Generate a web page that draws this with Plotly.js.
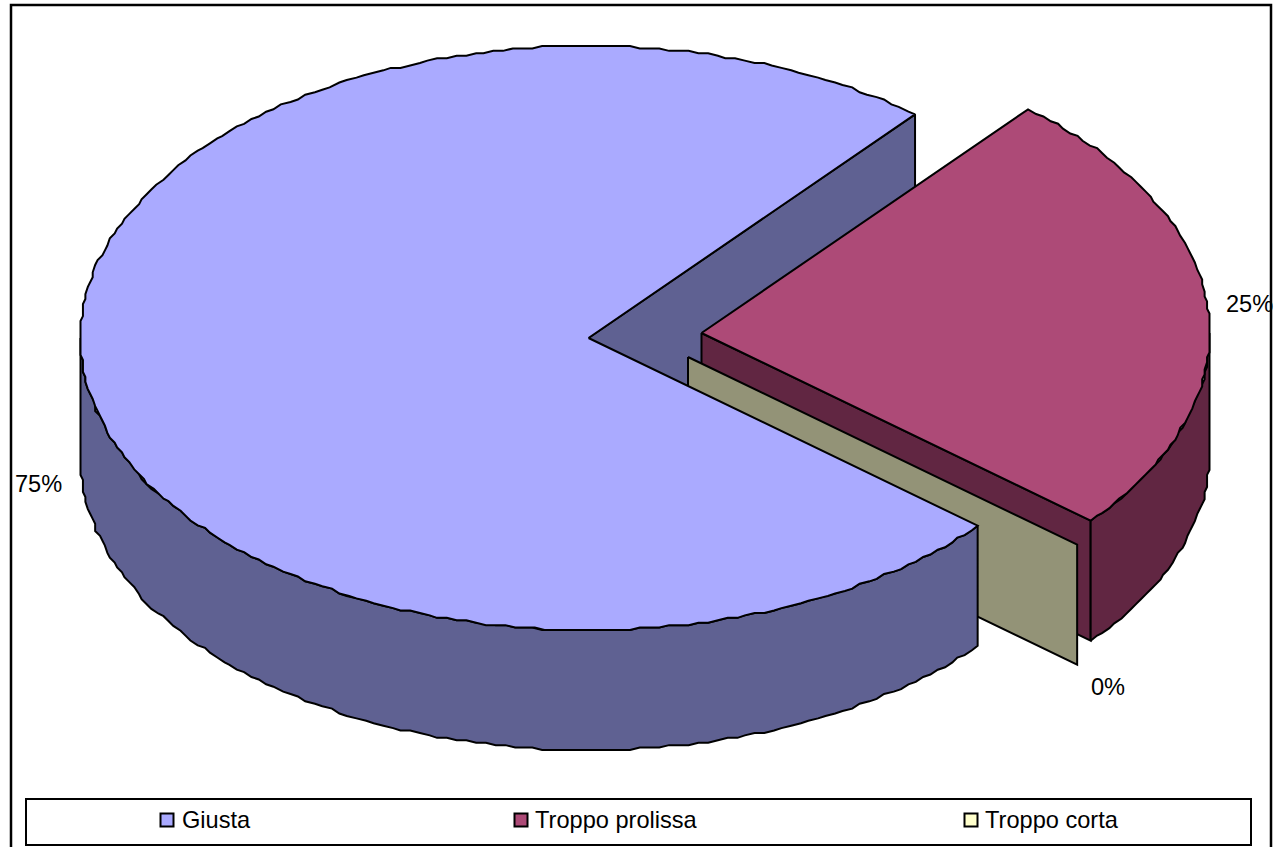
<!DOCTYPE html>
<html>
<head>
<meta charset="utf-8">
<script src="https://cdn.plot.ly/plotly-3.0.1.min.js"></script>
<style>html,body{margin:0;padding:0;background:#fff}</style>
</head>
<body>
<div id="chart" style="width:1284px;height:847px"></div>
<script>
const categories = ["Giusta", "Troppo prolissa", "Troppo corta"];
const values = [75, 25, 0];
const topColors = ["#AAAAFF", "#AD4A77", "#FFFFCC"];
const sideColors = ["#5F6192", "#612642", "#939377"];
const centerXs = [588.5, 701.5, 688];
const centerYs = [338, 333, 357];
const legendMarkerXs = [167, 521, 971];
const legendTextXs = [180, 533, 983];
const labelXs = [38, 1249, 1108];
const labelYs = [484, 304, 687];

const RX = 508, RY = 292, DEPTH = 120, START = -40, GRID_X = RX / 208, GRID_Y = RY / 120;
const rad = d => d * Math.PI / 180;
const snap = (v, g) => Math.round(v / g) * g;

function arc(cx, cy, a0, a1, dy) {
  const n = Math.max(1, Math.round(Math.abs(a1 - a0) / 1.1));
  const pts = [];
  for (let i = 0; i <= n; i++) {
    const a = a0 + (a1 - a0) * i / n;
    let ox = RX * Math.cos(rad(a)), oy = -RY * Math.sin(rad(a));
    if (i > 0 && i < n) { ox = snap(ox, GRID_X); oy = snap(oy, GRID_Y); }
    pts.push([cx + ox, cy + oy + dy]);
  }
  return pts;
}
function poly(pts, color, name) {
  const closed = pts.concat([pts[0]]);
  return {
    type: "scatter", mode: "lines", name: name, fill: "toself", fillcolor: color,
    x: closed.map(p => p[0]), y: closed.map(p => p[1]),
    line: {color: "#000", width: 2, simplify: false}, hoverinfo: "name", showlegend: false
  };
}

// slice angles from values (clockwise from START)
const sweeps = values.map(v => v / 100 * 360);
const starts = [];
sweeps.reduce((s, w, i) => { starts[i] = s; return s - w; }, START);
const ends = starts.map((s, i) => s - sweeps[i]);

function radial(i, a) {
  const cx = centerXs[i], cy = centerYs[i];
  return [cx + RX * Math.cos(rad(a)), cy - RY * Math.sin(rad(a))];
}
function wall(i, a) {
  const cx = centerXs[i], cy = centerYs[i], e = radial(i, a);
  return poly([[cx, cy], e, [e[0], e[1] + DEPTH], [cx, cy + DEPTH]], sideColors[i], categories[i]);
}
function rim(i, a0, a1) {
  const t = arc(centerXs[i], centerYs[i], a0, a1, 0);
  const b = arc(centerXs[i], centerYs[i], a0, a1, DEPTH).reverse();
  return poly(t.concat(b), sideColors[i], categories[i]);
}
function topFace(i) {
  const pts = [[centerXs[i], centerYs[i]]].concat(arc(centerXs[i], centerYs[i], starts[i], ends[i], 0));
  return poly(pts, topColors[i], categories[i]);
}

const traces = [
  wall(0, ends[0]),          // cut face of the big slice
  wall(1, ends[1]),          // cut face of the exploded slice
  rim(1, ends[1], -360),     // visible outer rim of the exploded slice
  topFace(1),
  wall(2, starts[2]),        // zero-width slice is only a wall
  rim(0, starts[0], -180),   // front rim of the big slice
  topFace(0),
  {
    type: "scatter", mode: "markers", x: legendMarkerXs, y: categories.map(() => 820),
    marker: {symbol: "square", size: 13, color: topColors, line: {color: "#000", width: 2}},
    hoverinfo: "skip", showlegend: false
  }
];

const labelFont = {family: "Liberation Sans, Arial, sans-serif", size: 23.6, color: "#000"};
const annotations = categories.map((c, i) => ({
  x: legendTextXs[i], y: 820, text: c, showarrow: false, xanchor: "left", yanchor: "middle", font: labelFont
})).concat(values.map((v, i) => ({
  x: labelXs[i], y: labelYs[i], text: v + "%", showarrow: false, xanchor: "center", yanchor: "middle", font: labelFont
})));

const layout = {
  width: 1284, height: 847, margin: {l: 0, r: 0, t: 0, b: 0},
  paper_bgcolor: "#fff", plot_bgcolor: "#fff", showlegend: false,
  xaxis: {range: [0, 1284], visible: false, fixedrange: true},
  yaxis: {range: [847, 0], visible: false, fixedrange: true},
  shapes: [
    {type: "rect", xref: "x", yref: "y", x0: 11, y0: 5, x1: 1271, y1: 860, line: {color: "#000", width: 2.5}, layer: "below"},
    {type: "rect", xref: "x", yref: "y", x0: 26, y0: 799, x1: 1251, y1: 845, line: {color: "#000", width: 2}, layer: "below"}
  ],
  annotations: annotations
};
Plotly.newPlot("chart", traces, layout, {displayModeBar: false, staticPlot: true});
</script>
</body>
</html>
